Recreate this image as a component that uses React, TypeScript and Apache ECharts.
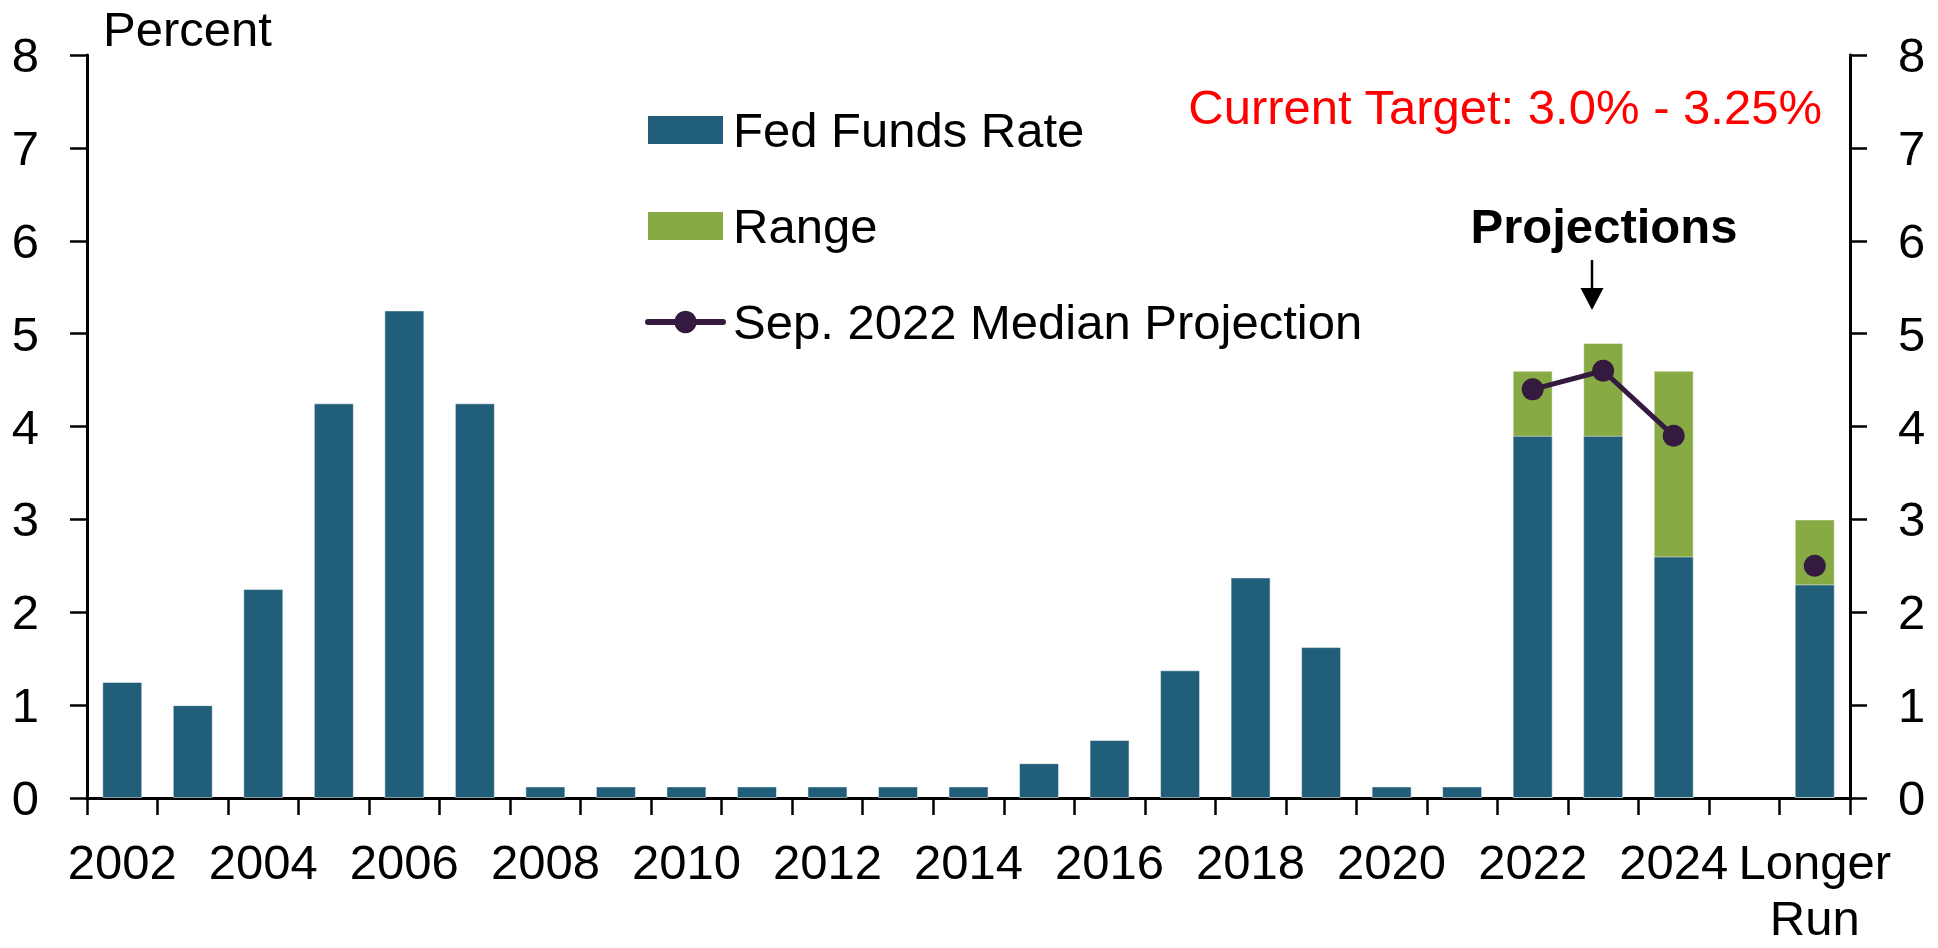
import React, { useEffect, useRef } from "react";
import * as echarts from "echarts";

const categories = [
  "2002", "2003", "2004", "2005", "2006", "2007", "2008", "2009", "2010",
  "2011", "2012", "2013", "2014", "2015", "2016", "2017", "2018", "2019",
  "2020", "2021", "2022", "2023", "2024", "", "Longer\nRun",
];

// Fed funds rate (historical) and lower end of projection range
const fedFundsRate = [
  1.25, 1.0, 2.25, 4.25, 5.25, 4.25, 0.125, 0.125, 0.125,
  0.125, 0.125, 0.125, 0.125, 0.375, 0.625, 1.375, 2.375, 1.625,
  0.125, 0.125, 3.9, 3.9, 2.6, null, 2.3,
];

// Upper end of projection range
const rangeHigh = [
  null, null, null, null, null, null, null, null, null,
  null, null, null, null, null, null, null, null, null,
  null, null, 4.6, 4.9, 4.6, null, 3.0,
];

// Sep. 2022 median projection
const medianProjection = [
  null, null, null, null, null, null, null, null, null,
  null, null, null, null, null, null, null, null, null,
  null, null, 4.4, 4.6, 3.9, null, 2.5,
];

const yMin = 0;
const yMax = 8;
const yInterval = 1;

const BLUE = "#215e79";
const GREEN = "#88aa45";
const PURPLE = "#341a3e";
const FONT = "'Liberation Sans Narrow', 'Arial Narrow', 'Liberation Sans', Arial, sans-serif";
const FS = 49;

export default function App() {
  const ref = useRef<HTMLDivElement>(null);

  useEffect(() => {
    if (!ref.current) return;
    const chart = echarts.init(ref.current, undefined, { renderer: "svg" });

    const axisLine = { show: true, lineStyle: { color: "#000", width: 3 } };
    const yAxisCommon = {
      type: "value" as const,
      min: yMin,
      max: yMax,
      interval: yInterval,
      axisLine,
      axisTick: { show: true, inside: false, length: 17, lineStyle: { color: "#000", width: 2.5 } },
      splitLine: { show: false },
      axisLabel: { fontFamily: FONT, fontSize: FS, color: "#000", margin: 48 },
    };

    chart.setOption({
      animation: false,
      backgroundColor: "#fff",
      grid: {
        left: 87,
        right: 88,
        top: 55,
        bottom: 150,
        containLabel: false,
        outerBoundsMode: "none",
      },
      legend: {
        orient: "vertical",
        left: 640,
        top: 97,
        itemWidth: 75,
        itemHeight: 28,
        itemGap: 40,
        selectedMode: false,
        textStyle: { fontFamily: FONT, fontSize: FS, color: "#000", lineHeight: 56, padding: [0, 0, 0, 5] },
        itemStyle: { borderWidth: 0 },
        data: [
          { name: "Fed Funds Rate", icon: "rect" },
          { name: "Range", icon: "rect" },
          {
            name: "Sep. 2022 Median Projection",
            lineStyle: { width: 6, color: PURPLE, cap: "round" },
          },
        ],
      },
      xAxis: [
        {
          type: "category",
          data: categories,
          boundaryGap: true,
          position: "bottom",
          axisLine,
          axisTick: { show: true, interval: 0, length: 17, lineStyle: { color: "#000", width: 2.5 } },
          axisLabel: {
            interval: 1,
            showMaxLabel: true,
            showMinLabel: true,
            hideOverlap: false,
            fontFamily: FONT,
            fontSize: FS,
            lineHeight: 56,
            color: "#000",
            margin: 36,
          },
        },
        {
          type: "category",
          data: categories,
          position: "top",
          axisLine,
          axisTick: { show: false },
          axisLabel: { show: false },
        },
      ],
      yAxis: [
        { ...yAxisCommon, position: "left" },
        { ...yAxisCommon, position: "right" },
      ],
      series: [
        {
          name: "Range",
          type: "bar",
          data: rangeHigh,
          barWidth: 40,
          barGap: "-100%",
          itemStyle: { color: GREEN, borderColor: "rgba(255,255,255,0.5)", borderWidth: 1 },
        },
        {
          name: "Fed Funds Rate",
          type: "bar",
          data: fedFundsRate,
          barWidth: 40,
          barGap: "-100%",
          itemStyle: { color: BLUE, borderColor: "rgba(255,255,255,0.5)", borderWidth: 1 },
        },
        {
          name: "Sep. 2022 Median Projection",
          type: "line",
          data: medianProjection,
          connectNulls: false,
          symbol: "circle",
          symbolSize: 22,
          z: 5,
          lineStyle: { color: PURPLE, width: 5 },
          itemStyle: { color: PURPLE },
        },
      ],
      graphic: [
        {
          type: "text",
          x: 103,
          y: 29,
          style: { text: "Percent", font: `${FS}px ${FONT}`, fill: "#000", verticalAlign: "middle", align: "left" },
        },
        {
          type: "text",
          x: 1822,
          y: 107,
          style: {
            text: "Current Target: 3.0% - 3.25%",
            font: `${FS}px ${FONT}`,
            fill: "#ff0000",
            verticalAlign: "middle",
            align: "right",
          },
        },
        {
          type: "text",
          x: 1604,
          y: 226,
          style: {
            text: "Projections",
            font: `bold ${FS}px ${FONT}`,
            fill: "#000",
            verticalAlign: "middle",
            align: "center",
          },
        },
        {
          type: "line",
          shape: { x1: 1592, y1: 260, x2: 1592, y2: 290 },
          style: { stroke: "#000", lineWidth: 2.5 },
        },
        {
          type: "polygon",
          shape: { points: [[1580.5, 288], [1603.5, 288], [1592, 310]] },
          style: { fill: "#000" },
        },
      ],
    });

    return () => chart.dispose();
  }, []);

  return (
    <div
      ref={ref}
      style={{ position: "fixed", left: 0, top: 0, width: 1938, height: 948, background: "#fff" }}
    />
  );
}
